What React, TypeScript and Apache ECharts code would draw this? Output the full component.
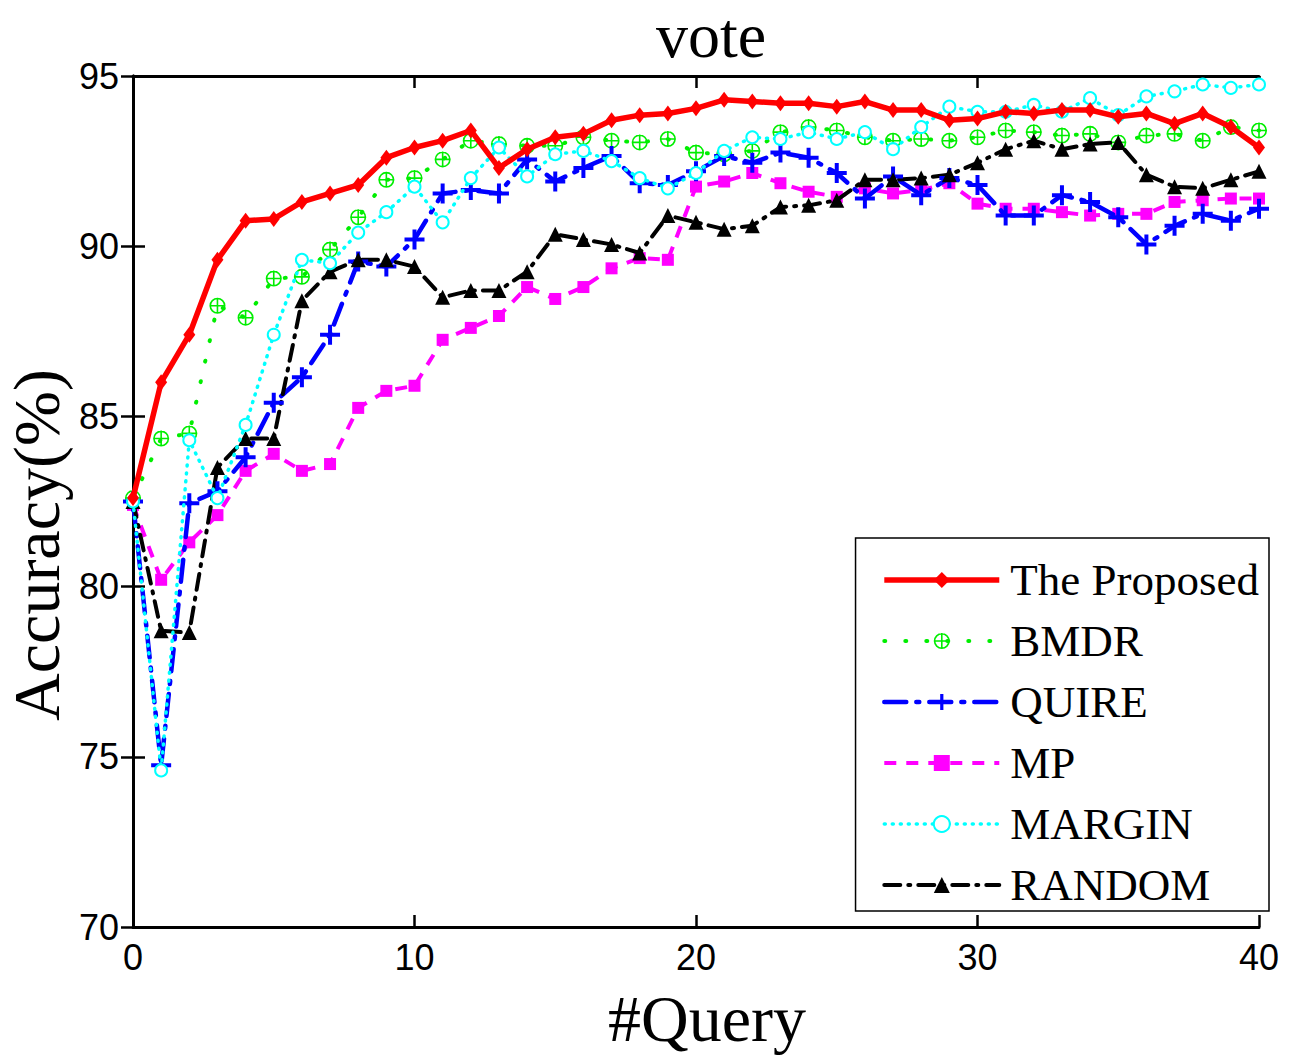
import React, { useEffect, useRef } from "react";
import * as echarts from "echarts";

const queries = Array.from({ length: 41 }, (_, i) => i);
const xTicks = [0, 10, 20, 30, 40];
const yTicks = [70, 75, 80, 85, 90, 95];

const proposed = [82.6, 86.0, 87.4, 89.6, 90.75, 90.8, 91.3, 91.55, 91.8, 92.6, 92.9, 93.1, 93.4, 92.3, 92.85, 93.2, 93.3, 93.7, 93.85, 93.9, 94.05, 94.3, 94.25, 94.2, 94.2, 94.1, 94.25, 94.0, 94.0, 93.7, 93.75, 93.95, 93.9, 94.0, 94.0, 93.8, 93.9, 93.6, 93.9, 93.5, 92.9];
const bmdr = [82.6, 84.35, 84.5, 88.25, 87.9, 89.05, 89.1, 89.9, 90.85, 91.95, 92.0, 92.55, 93.1, 93.0, 92.95, 92.95, 93.2, 93.1, 93.05, 93.15, 92.75, 92.7, 92.8, 93.35, 93.5, 93.4, 93.2, 93.1, 93.15, 93.1, 93.2, 93.4, 93.35, 93.25, 93.3, 93.05, 93.25, 93.3, 93.1, 93.5, 93.4];
const quire = [82.5, 74.75, 82.45, 82.8, 83.8, 85.4, 86.15, 87.4, 89.55, 89.4, 90.2, 91.55, 91.65, 91.55, 92.55, 91.9, 92.3, 92.65, 91.85, 91.8, 92.2, 92.65, 92.45, 92.75, 92.6, 92.15, 91.4, 92.05, 91.5, 92.0, 91.8, 90.9, 90.9, 91.5, 91.3, 90.85, 90.05, 90.6, 90.95, 90.75, 91.1];
const mp = [82.4, 80.2, 81.3, 82.1, 83.4, 83.9, 83.4, 83.6, 85.25, 85.75, 85.9, 87.25, 87.6, 87.95, 88.8, 88.45, 88.8, 89.35, 89.65, 89.6, 91.75, 91.9, 92.15, 91.85, 91.6, 91.45, 91.7, 91.55, 91.65, 91.85, 91.25, 91.1, 91.1, 91.0, 90.9, 90.95, 90.95, 91.3, 91.35, 91.4, 91.4];
const margin = [82.5, 74.6, 84.3, 82.6, 84.75, 87.4, 89.6, 89.5, 90.4, 91.0, 91.75, 90.7, 92.0, 92.9, 92.05, 92.7, 92.8, 92.5, 92.0, 91.7, 92.15, 92.8, 93.2, 93.15, 93.35, 93.15, 93.35, 92.85, 93.5, 94.1, 93.95, 93.95, 94.15, 93.95, 94.35, 93.85, 94.4, 94.55, 94.75, 94.65, 94.75];
const random = [82.5, 78.7, 78.65, 83.5, 84.35, 84.35, 88.4, 89.25, 89.6, 89.6, 89.4, 88.5, 88.7, 88.7, 89.25, 90.35, 90.2, 90.05, 89.8, 90.9, 90.7, 90.5, 90.6, 91.15, 91.2, 91.35, 91.95, 91.95, 92.0, 92.1, 92.45, 92.85, 93.1, 92.85, 93.0, 93.05, 92.1, 91.75, 91.7, 91.95, 92.2];

const seriesNames = ["The Proposed", "BMDR", "QUIRE", "MP", "MARGIN", "RANDOM"];

const circlePlus =
  "path://M0,-10 A10,10 0 1,1 0,10 A10,10 0 1,1 0,-10 Z M0,-8 A8,8 0 1,0 0,8 A8,8 0 1,0 0,-8 Z M-10,-1 L10,-1 L10,1 L-10,1 Z M-1,-10 L1,-10 L1,10 L-1,10 Z";
const plus = "path://M-2,-10 L2,-10 L2,-2 L10,-2 L10,2 L2,2 L2,10 L-2,10 L-2,2 L-10,2 L-10,-2 L-2,-2 Z";

const pair = (arr: number[]) => queries.map((q, i) => [q, arr[i]]);

export default function App() {
  const ref = useRef<HTMLDivElement>(null);
  useEffect(() => {
    document.body.style.margin = "0";
    document.body.style.overflow = "hidden";
    const chart = echarts.init(ref.current!, null, { renderer: "svg" });
    const tickFont = { fontFamily: "Liberation Sans", fontSize: 36, color: "#000" };
    const axisCommon = {
      axisLine: { show: true, lineStyle: { color: "#000", width: 3 } },
      axisTick: { show: true, inside: true, length: 12, lineStyle: { color: "#000", width: 2.5 } },
      splitLine: { show: false },
    };
    const option: any = {
      animation: false,
      backgroundColor: "#fff",
      grid: { left: 133, right: 48, top: 76, bottom: 129, containLabel: false },
      xAxis: [
        {
          type: "value", min: 0, max: 40, interval: 10, position: "bottom",
          ...axisCommon,
          axisLabel: { ...tickFont, margin: 12, formatter: (v: number) => (xTicks.includes(v) ? String(v) : "") },
        },
        {
          type: "value", min: 0, max: 40, interval: 10, position: "top",
          ...axisCommon, axisLabel: { show: false },
        },
      ],
      yAxis: [
        {
          type: "value", min: 70, max: 95, interval: 5, position: "left",
          ...axisCommon,
          axisLabel: { ...tickFont, margin: 14, formatter: (v: number) => (yTicks.includes(v) ? String(v) : "") },
        },
        {
          type: "value", min: 70, max: 95, interval: 5, position: "right",
          ...axisCommon, axisLabel: { show: false },
        },
      ],
      legend: {
        orient: "vertical",
        right: 38,
        top: 538,
        backgroundColor: "#fff",
        borderColor: "#000",
        borderWidth: 1.5,
        borderRadius: 0,
        padding: [18, 10, 2, 26],
        itemWidth: 115,
        itemHeight: 20,
        itemGap: 13,
        data: seriesNames,
        lineStyle: { width: "inherit" },
        textStyle: { fontFamily: "Liberation Serif", fontSize: 45, color: "#000", lineHeight: 48, padding: [0, 0, 0, 6] },
      },
      graphic: [
        {
          type: "text", x: 711, y: 35,
          style: { text: "vote", font: "64px 'Liberation Serif'", fill: "#000", textAlign: "center", textVerticalAlign: "middle" },
        },
        {
          type: "text", x: 707, y: 1018,
          style: { text: "#Query", font: "66px 'Liberation Serif'", fill: "#000", textAlign: "center", textVerticalAlign: "middle" },
        },
        {
          type: "text", x: 36, y: 545, rotation: Math.PI / 2,
          style: { text: "Accuracy(%)", font: "66px 'Liberation Serif'", fill: "#000", textAlign: "center", textVerticalAlign: "middle" },
        },
      ],
      series: [
        {
          name: "The Proposed", type: "line", data: pair(proposed), z: 10,
          symbol: "diamond", symbolSize: [12, 16],
          lineStyle: { color: "#ff0000", width: 5.5, type: "solid" },
          itemStyle: { color: "#ff0000" },
        },
        {
          name: "BMDR", type: "line", data: pair(bmdr), z: 4,
          symbol: circlePlus, symbolSize: 16,
          lineStyle: { color: "#00ee00", width: 4, type: [1, 20], cap: "round" },
          itemStyle: { color: "#00ee00" },
        },
        {
          name: "QUIRE", type: "line", data: pair(quire), z: 5,
          symbol: plus, symbolSize: 20,
          lineStyle: { color: "#0000ff", width: 4.5, type: [22, 10, 3, 10], cap: "round" },
          itemStyle: { color: "#0000ff" },
        },
        {
          name: "MP", type: "line", data: pair(mp), z: 3,
          symbol: "rect", symbolSize: 12,
          lineStyle: { color: "#ff00ff", width: 4, type: [12, 10] },
          itemStyle: { color: "#ff00ff" },
        },
        {
          name: "MARGIN", type: "line", data: pair(margin), z: 6,
          symbol: "emptyCircle", symbolSize: 12,
          lineStyle: { color: "#00ffff", width: 3.5, type: [1, 7], cap: "round" },
          itemStyle: { color: "#00ffff", borderColor: "#00ffff", borderWidth: 3 },
        },
        {
          name: "RANDOM", type: "line", data: pair(random), z: 5,
          symbol: "triangle", symbolSize: 15,
          lineStyle: { color: "#000000", width: 4, type: [16, 8, 2, 8], cap: "round" },
          itemStyle: { color: "#000000" },
        },
      ],
    };
    chart.setOption(option);
    return () => chart.dispose();
  }, []);
  return <div ref={ref} style={{ width: 1307, height: 1056 }} />;
}
